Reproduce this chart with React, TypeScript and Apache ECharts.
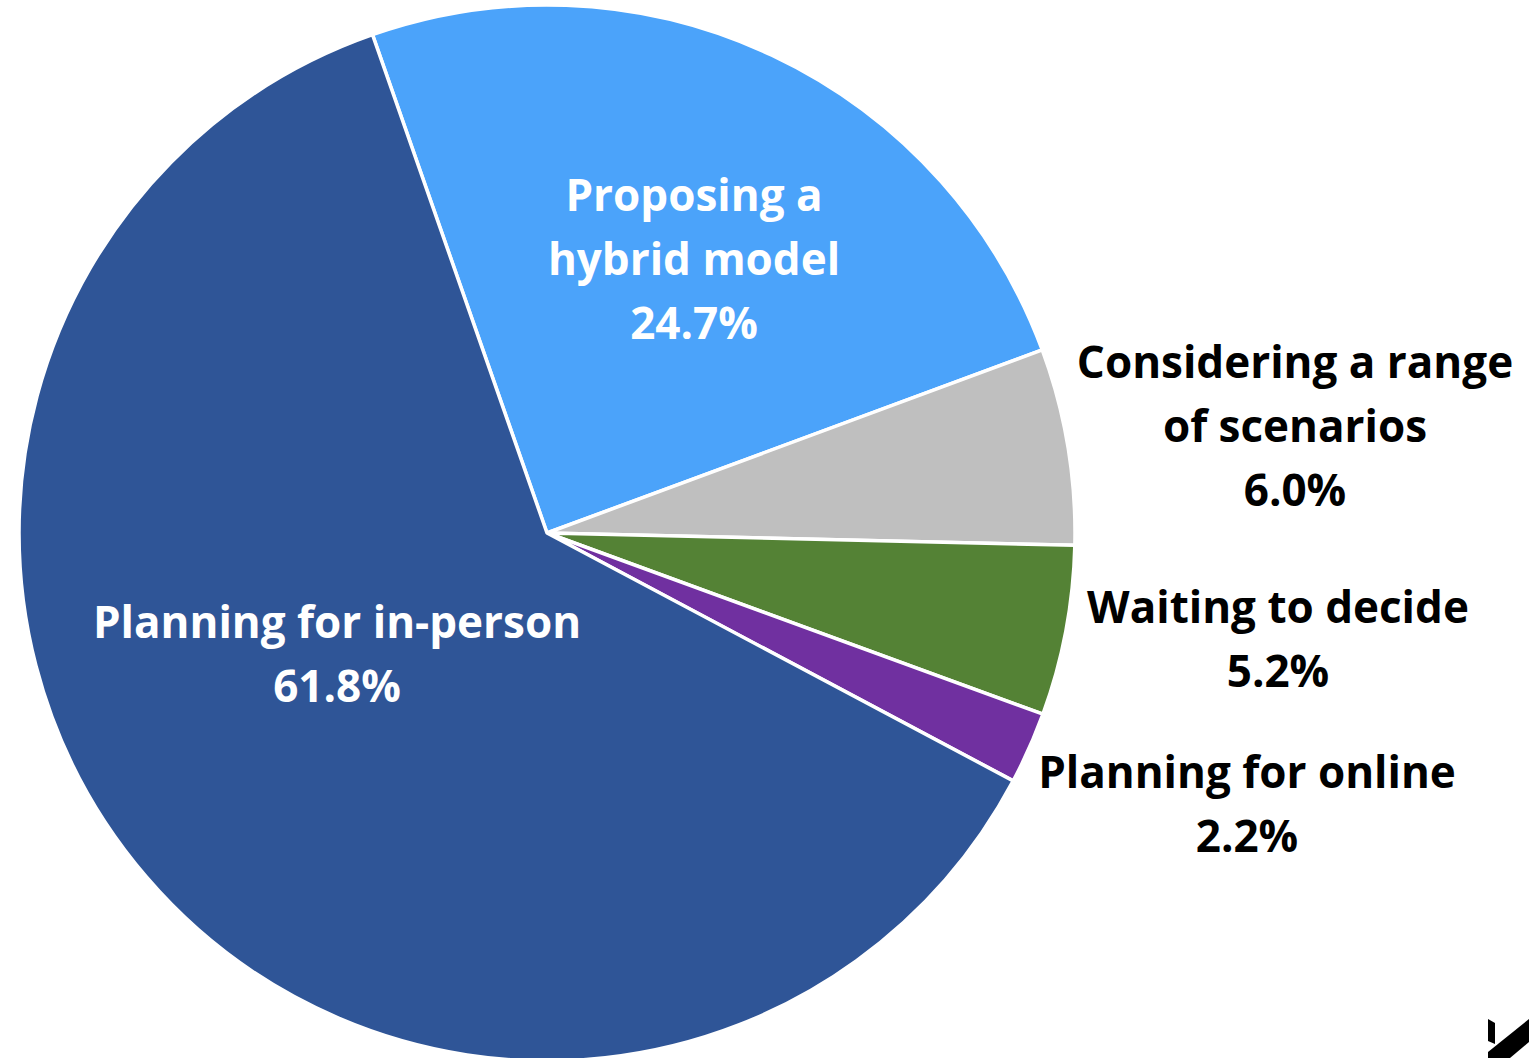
import React, { useEffect, useRef } from "react";
import * as echarts from "echarts";

const categories = [
  "Proposing a\nhybrid model",
  "Considering a range\nof scenarios",
  "Waiting to decide",
  "Planning for online",
  "Planning for in-person",
];
const values = [24.7, 6.0, 5.2, 2.2, 61.8];
const colors = ["#4BA3FA", "#BFBFBF", "#548235", "#7030A0", "#2F5597"];
const labelColors = ["#ffffff", "#000000", "#000000", "#000000", "#ffffff"];
// label centres in chart pixels
const labelPositions = [
  [694, 258],
  [1295, 425],
  [1278, 638],
  [1247, 803],
  [337, 653],
];

export default function App() {
  const ref = useRef<HTMLDivElement>(null);
  useEffect(() => {
    if (!ref.current) return;
    const chart = echarts.init(ref.current, undefined, { renderer: "svg" });
    chart.setOption({
      animation: false,
      backgroundColor: "#ffffff",
      series: [
        {
          type: "pie",
          center: [547, 533],
          radius: 528,
          startAngle: 109.3,
          clockwise: true,
          avoidLabelOverlap: false,
          itemStyle: { borderColor: "#ffffff", borderWidth: 3.5 },
          label: {
            show: true,
            position: "inside",
            fontFamily: "Open Sans",
            fontWeight: "bold",
            fontSize: 44,
            lineHeight: 64,
            align: "center",
            formatter: (p: any) => `${p.name}\n${values[p.dataIndex].toFixed(1)}%`,
          },
          labelLine: { show: false },
          labelLayout: (params: any) => {
            const pos = labelPositions[params.dataIndex];
            return { x: pos[0], y: pos[1], align: "center", verticalAlign: "middle" };
          },
          data: categories.map((name, i) => ({
            name,
            value: values[i],
            itemStyle: { color: colors[i] },
            label: { color: labelColors[i] },
          })),
        },
      ],
      graphic: [
        {
          type: "polygon",
          shape: { points: [[1488, 1019], [1495, 1023], [1495, 1044], [1488, 1041]] },
          style: { fill: "#000000" },
        },
        {
          type: "polygon",
          shape: { points: [[1488, 1052], [1529, 1019], [1529, 1042], [1510, 1058], [1488, 1058]] },
          style: { fill: "#000000" },
        },
      ],
    });
    return () => chart.dispose();
  }, []);
  return (
    <div
      ref={ref}
      style={{ position: "absolute", left: 0, top: 0, width: 1534, height: 1058 }}
    />
  );
}
